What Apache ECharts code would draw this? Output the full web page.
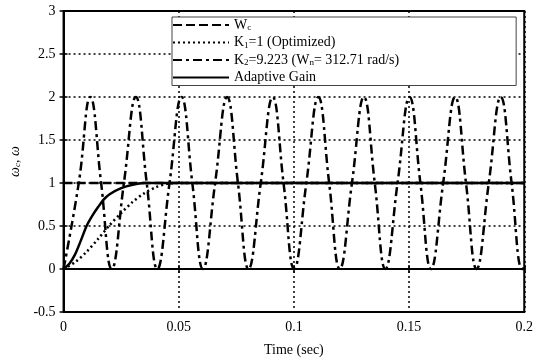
<!DOCTYPE html>
<html><head><meta charset="utf-8">
<script src="https://cdn.jsdelivr.net/npm/echarts@6/dist/echarts.min.js"></script>
<style>html,body{margin:0;padding:0;background:#fff}#c{width:536px;height:362px}</style>
</head><body><div id="c"></div>
<script>
// x tick labels / y tick labels
var xTicks = [0, 0.05, 0.1, 0.15, 0.2];
var yTicks = [-0.5, 0, 0.5, 1, 1.5, 2, 2.5, 3];

// Wc (reference, dashed)
var wcTime = [0, 0.2];
var wcVal  = [1, 1];

// K1=1 (Optimized), dotted
var k1Time = [0, 0.005, 0.01, 0.015, 0.02, 0.025, 0.03, 0.035, 0.04, 0.045, 0.05, 0.2];
var k1Val  = [0, 0.08, 0.2, 0.35, 0.51, 0.65, 0.78, 0.88, 0.95, 0.99, 1.0, 1.0];

// K2=9.223, dash-dot (undamped oscillation read at troughs / mid-crossings / peaks)
var k2Time = [0, 0.0066, 0.0116, 0.0163, 0.0209, 0.0262, 0.0314, 0.0361, 0.0407, 0.0460,
              0.0512, 0.0559, 0.0605, 0.0658, 0.0710, 0.0757, 0.0803, 0.0856, 0.0908, 0.0955,
              0.1001, 0.1054, 0.1106, 0.1153, 0.1199, 0.1252, 0.1304, 0.1351, 0.1397, 0.1450,
              0.1502, 0.1549, 0.1595, 0.1648, 0.1700, 0.1747, 0.1793, 0.1846, 0.1898, 0.1945,
              0.1991, 0.2];
var k2Val  = [0, 1, 2, 1, 0, 1, 2, 1, 0, 1,
              2, 1, 0, 1, 2, 1, 0, 1, 2, 1,
              0, 1, 2, 1, 0, 1, 2, 1, 0, 1,
              2, 1, 0, 1, 2, 1, 0, 1, 2, 1,
              0, 0.01];

// Adaptive Gain, solid
var agTime = [0, 0.0025, 0.005, 0.0075, 0.01, 0.0125, 0.015, 0.0175, 0.02, 0.025, 0.03, 0.035, 0.2];
var agVal  = [0, 0.06, 0.17, 0.33, 0.5, 0.62, 0.72, 0.81, 0.87, 0.94, 0.98, 1.0, 1.0];

function pairs(t, v) { return t.map(function (x, i) { return [x, v[i]]; }); }

var FONT = '"Liberation Serif", "Times New Roman", serif';
var chart = echarts.init(document.getElementById('c'), null, {renderer: 'canvas'});

var axisCommon = {
  axisLine: {show: true, lineStyle: {color: '#000', width: 2}},
  axisTick: {show: true, inside: true, length: 4, lineStyle: {color: '#000', width: 1.5}},
  splitLine: {show: false}
};

chart.setOption({
  animation: false,
  backgroundColor: '#fff',
  grid: {left: 53, right: 11, top: 11, bottom: 45, show: true, borderColor: '#000', borderWidth: 2},
  textStyle: {fontFamily: FONT},
  legend: {
    left: 172, top: 17, orient: 'vertical',
    backgroundColor: '#fff', borderColor: '#444', borderWidth: 1,
    padding: [1, 117, 1, 0], itemGap: 3, itemWidth: 56, itemHeight: 14,
    itemStyle: {opacity: 0},
    textStyle: {fontFamily: FONT, fontSize: 14, color: '#000',
      rich: {
        b: {fontFamily: FONT, fontSize: 14, color: '#000'},
        s: {fontFamily: FONT, fontSize: 9, color: '#000', verticalAlign: 'bottom', padding: [6, 0, 0, 0]}
      }},
    formatter: function (n) {
      if (n === 'Wc') return '{b|W}{s|c}';
      if (n === 'K1') return '{b|K}{s|1}{b|=1 (Optimized)}';
      if (n === 'K2') return '{b|K}{s|2}{b|=9.223 (W}{s|n}{b|= 312.71 rad/s)}';
      return '{b|Adaptive Gain}';
    },
    data: ['Wc', 'K1', 'K2', 'Adaptive Gain']
  },
  xAxis: [
    Object.assign({}, axisCommon, {
      type: 'value', min: 0, max: 0.2, interval: 0.05, position: 'bottom',
      name: 'Time (sec)', nameLocation: 'middle', nameGap: 31,
      nameTextStyle: {fontFamily: FONT, fontSize: 14, color: '#000'},
      axisLabel: {fontFamily: FONT, fontSize: 14, color: '#000', margin: 8,
        formatter: function (v) { var i = xTicks.indexOf(+v.toFixed(2)); return i >= 0 ? String(xTicks[i]) : ''; }},
      splitLine: {show: true, lineStyle: {color: '#000', width: 1.5, type: [2, 3]}}
    }),
    Object.assign({}, axisCommon, {
      type: 'value', min: 0, max: 0.2, interval: 0.05, position: 'top',
      axisLabel: {show: false}
    })
  ],
  yAxis: [
    Object.assign({}, axisCommon, {
      type: 'value', min: -0.5, max: 3, interval: 0.5, position: 'left',
      name: '{i|ω}{s|c}{i|, ω}', nameLocation: 'middle', nameGap: 31, nameRotate: 90,
      nameTextStyle: {fontFamily: FONT, fontSize: 14, color: '#000',
        rich: {
          i: {fontFamily: FONT, fontSize: 14, fontStyle: 'italic', color: '#000'},
          s: {fontFamily: FONT, fontSize: 9, fontStyle: 'italic', color: '#000', verticalAlign: 'bottom', padding: [6, 0, 0, 0]}
        }},
      axisLabel: {fontFamily: FONT, fontSize: 14, color: '#000', margin: 8,
        formatter: function (v) { var i = yTicks.indexOf(+v.toFixed(2)); return i >= 0 ? String(yTicks[i]) : ''; }},
      splitLine: {show: true, lineStyle: {color: '#000', width: 1.5, type: [2, 3]}}
    }),
    Object.assign({}, axisCommon, {
      type: 'value', min: -0.5, max: 3, interval: 0.5, position: 'right',
      axisLabel: {show: false}
    })
  ],
  series: [
    {name: 'K2', type: 'line', data: pairs(k2Time, k2Val), showSymbol: false, symbol: 'none',
     smooth: 0.45, z: 2,
     lineStyle: {color: '#000', width: 2.5, type: [9, 4, 3, 4]}, itemStyle: {color: '#000'}},
    {name: 'K1', type: 'line', data: pairs(k1Time, k1Val), showSymbol: false, symbol: 'none',
     smooth: 0.3, z: 3,
     lineStyle: {color: '#000', width: 2.5, type: [2, 3]}, itemStyle: {color: '#000'}},
    {name: 'Wc', type: 'line', data: pairs(wcTime, wcVal), showSymbol: false, symbol: 'none', z: 4,
     lineStyle: {color: '#000', width: 2.5, type: [9, 4]}, itemStyle: {color: '#000'}},
    {name: 'Adaptive Gain', type: 'line', data: pairs(agTime, agVal), showSymbol: false, symbol: 'none',
     smooth: 0.3, z: 5,
     lineStyle: {color: '#000', width: 2.5, type: 'solid'}, itemStyle: {color: '#000'}}
  ]
});
</script></body></html>
